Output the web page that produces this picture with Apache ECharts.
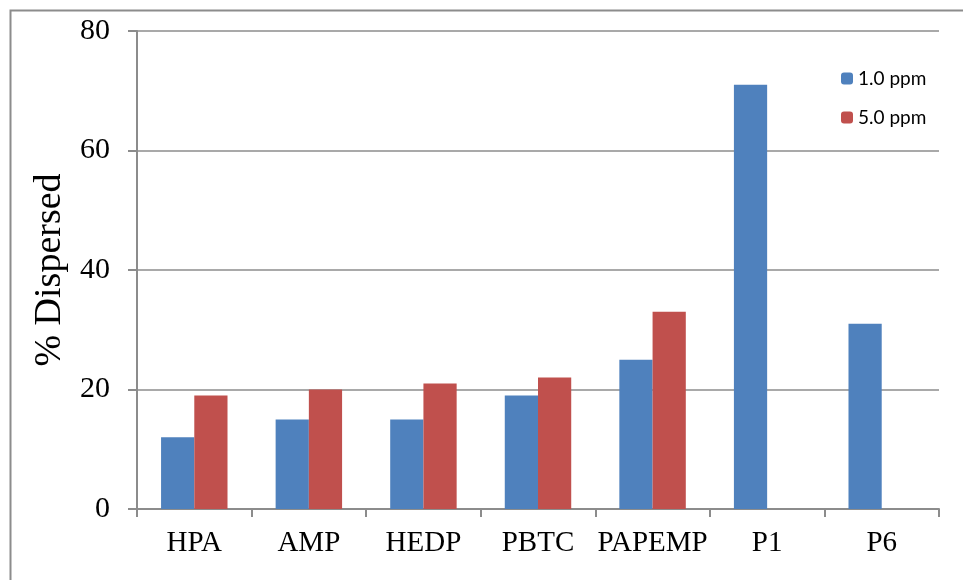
<!DOCTYPE html>
<html lang="en">
<head>
    <meta charset="UTF-8">
    <title></title>
    <script src="https://cdn.jsdelivr.net/npm/echarts@6/dist/echarts.min.js"></script>
    <style>
        body { margin: 0; background: #fff; }
        #main { width: 963px; height: 580px; }
    </style>
</head>
<body>
<div id="main"></div>
<script>
    var categories = ['HPA', 'AMP', 'HEDP', 'PBTC', 'PAPEMP', 'P1', 'P6'];
    var ppm1 = [12, 15, 15, 19, 25, 71, 31];
    var ppm5 = [19, 20, 21, 22, 33, '-', '-'];
    var yTicks = [0, 20, 40, 60, 80];

    var myChart = echarts.init(document.getElementById('main'));
    var gridColor = '#8c8c8c';
    var serif = '"Liberation Serif", "Times New Roman", serif';

    var option = {
        animation: false,
        color: ['#4F81BD', '#C0504D'],
        // outer frame of the figure
        graphic: [{
            type: 'rect',
            shape: { x: 10.5, y: 10.5, width: 1000, height: 1000 },
            style: { fill: 'none', stroke: '#8c8c8c', lineWidth: 2 },
            silent: true
        }],
        grid: {
            left: 137,
            right: 24,
            top: 31,
            bottom: 71
        },
        legend: {
            orient: 'vertical',
            left: 836,
            top: 64,
            itemWidth: 12,
            itemHeight: 12,
            itemGap: 20,
            textStyle: { fontFamily: 'Lato, "Open Sans", sans-serif', fontSize: 19, color: '#000' },
            data: ['1.0 ppm', '5.0 ppm']
        },
        xAxis: [{
            type: 'category',
            data: categories,
            axisLine: { lineStyle: { color: gridColor, width: 2 } },
            axisTick: { show: true, length: 8, lineStyle: { color: gridColor, width: 2 } },
            axisLabel: {
                interval: 0,
                margin: 20,
                fontFamily: serif,
                fontSize: 29,
                color: '#000'
            }
        }],
        yAxis: [{
            type: 'value',
            min: yTicks[0],
            max: yTicks[yTicks.length - 1],
            interval: 20,
            name: '% Dispersed',
            nameLocation: 'middle',
            nameGap: 67,
            nameTextStyle: { fontFamily: serif, fontSize: 38, color: '#000' },
            axisLine: { show: true, lineStyle: { color: gridColor, width: 2 } },
            axisTick: { show: true, length: 9, lineStyle: { color: gridColor, width: 2 } },
            splitLine: { lineStyle: { color: gridColor, width: 1.5 } },
            axisLabel: {
                margin: 27,
                fontFamily: serif,
                fontSize: 30,
                color: '#000'
            }
        }],
        series: [
            {
                name: '1.0 ppm',
                type: 'bar',
                barGap: '0%',
                barCategoryGap: '42%',
                data: ppm1
            },
            {
                name: '5.0 ppm',
                type: 'bar',
                data: ppm5
            }
        ]
    };

    myChart.setOption(option);
</script>
</body>
</html>
